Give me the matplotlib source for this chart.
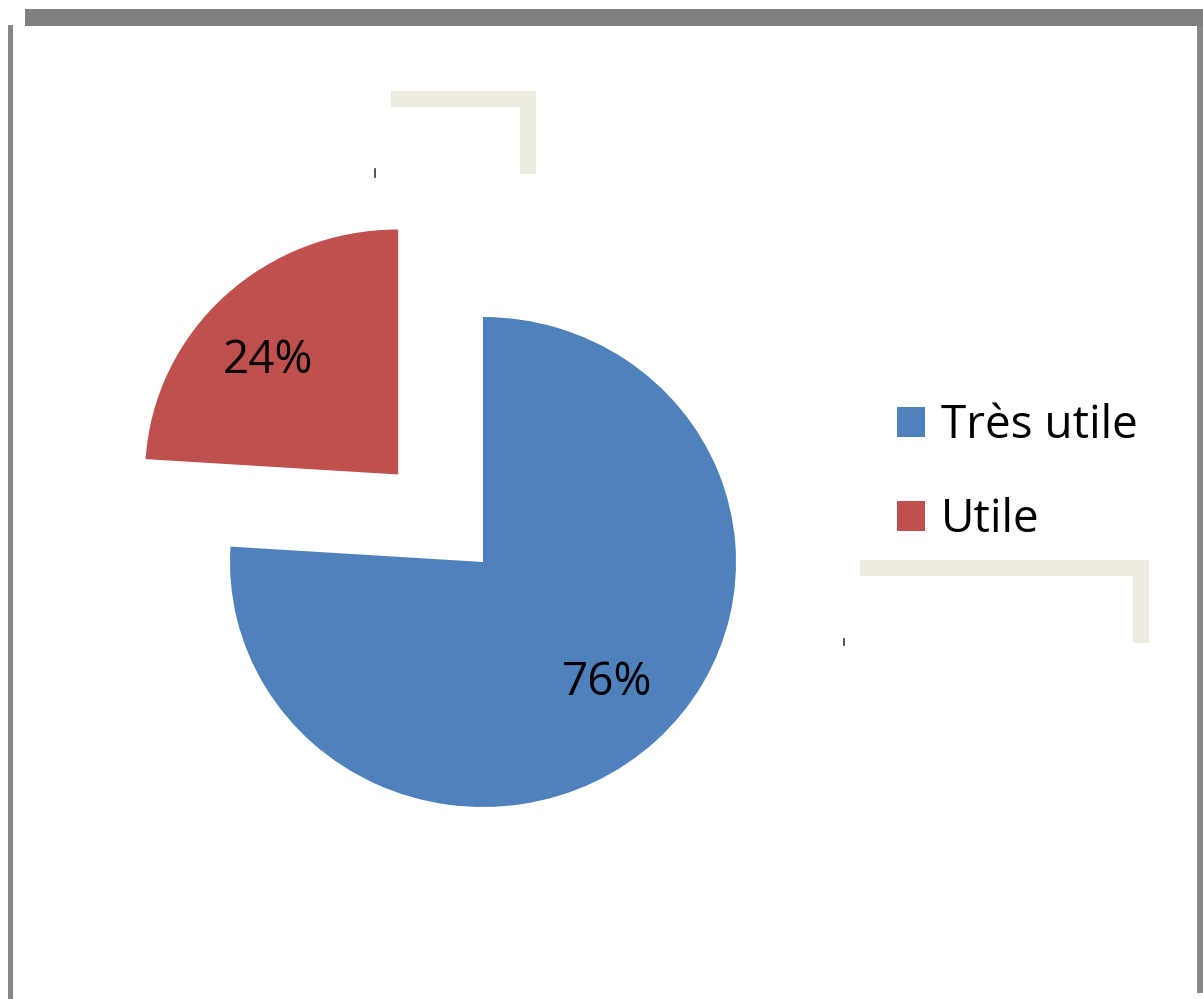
import matplotlib.pyplot as plt
from matplotlib.patches import Rectangle, Patch
from matplotlib.lines import Line2D
from matplotlib.transforms import offset_copy

labels = ['Très utile', 'Utile']
values = [76, 24]
colors = ['#4F81BD', '#C0504D']
explode = [0, 0.49]

W, H = 1203, 999
fig = plt.figure(figsize=(W / 100, H / 100), dpi=100)
fig.patch.set_facecolor('white')

# pie centre at pixel (483, 562); radius 253 px wide, 245 px high
CX, CY, RX, RY = 483, 562, 253, 245
ax = fig.add_axes([0, 0, 1, 1])
wedges, texts, autotexts = ax.pie(values, colors=colors, explode=explode,
                                  startangle=90, counterclock=False,
                                  autopct='%1.0f%%', pctdistance=0.69,
                                  wedgeprops=dict(linewidth=0))
# small nudges (in points) so the labels sit where the original had them
nudges = [(3, 1.5), (-8, -7)]
for t, (dx, dy) in zip(autotexts, nudges):
    t.set_fontsize(33)
    t.set_fontfamily('Open Sans')
    t.set_color('black')
    t.set_transform(offset_copy(t.get_transform(), fig=fig, x=dx, y=dy, units='points'))
ax.set_aspect('auto')
ax.set_xlim(-CX / RX, (W - CX) / RX)
ax.set_ylim(-(H - CY) / RY, CY / RY)
ax.axis('off')


def px_rect(x0, y0, x1, y1, color):
    # rectangle given in image pixels (y down)
    fig.patches.append(Rectangle((x0 / W, 1 - y1 / H), (x1 - x0) / W, (y1 - y0) / H,
                                 transform=fig.transFigure, color=color, lw=0, zorder=0))


# grey frame
px_rect(25, 9, W, 26, '#808080')
px_rect(8, 25, 13, H, '#878787')
px_rect(1197, 26, W, 993, '#878787')

# beige brackets
beige = '#EDEADF'
px_rect(391, 91, 536, 107, beige)
px_rect(520, 91, 536, 174, beige)
px_rect(860, 560, 1149, 576, beige)
px_rect(1133, 560, 1149, 643, beige)

# stray ticks
for x, y0, y1 in [(375, 169, 177), (844, 639, 645)]:
    fig.lines.append(Line2D([x / W, x / W], [1 - y0 / H, 1 - y1 / H],
                            transform=fig.transFigure, color='#333344', lw=1.2))

handles = [Patch(facecolor=c, edgecolor='none') for c in colors]
leg = fig.legend(handles, labels, loc='upper left',
                 bbox_to_anchor=(897 / W, 1 - 403 / H), bbox_transform=fig.transFigure,
                 frameon=False, borderpad=0, borderaxespad=0,
                 handlelength=0.61, handleheight=0.61, handletextpad=0.35,
                 labelspacing=1.05, prop={'family': 'Open Sans', 'size': 33})

fig.savefig('out.png', dpi=100)
